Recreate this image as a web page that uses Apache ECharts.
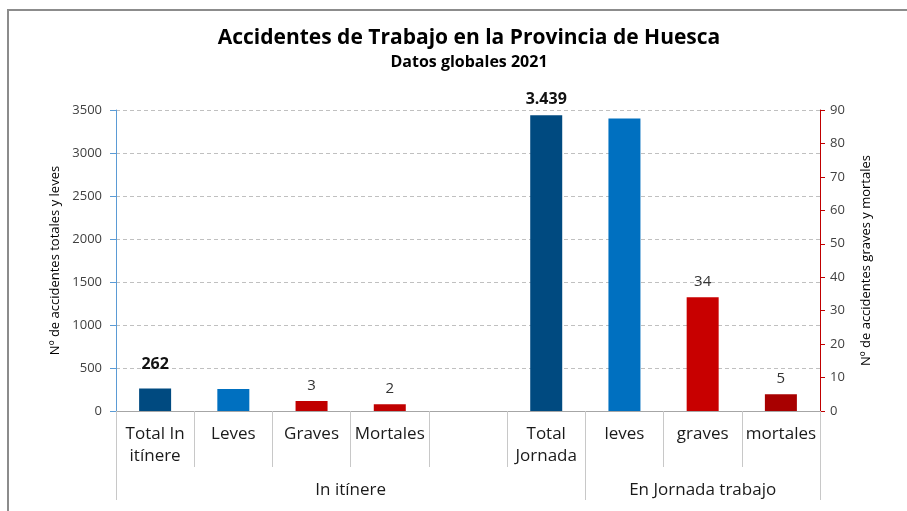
<!DOCTYPE html>
<html>
<head>
<meta charset="utf-8">
<script src="https://cdn.jsdelivr.net/npm/echarts@6/dist/echarts.min.js"></script>
<style>
html, body { margin: 0; padding: 0; background: #fff; }
#chart { width: 907px; height: 511px; }
</style>
</head>
<body>
<div id="chart"></div>
<script>
// categorías del eje X (la quinta queda vacía, como en el original)
const categories = ['Total In\nitínere', 'Leves', 'Graves', 'Mortales', '', 'Total\nJornada', 'leves', 'graves', 'mortales']
// grupos: nombre y posición (en huecos) de inicio/fin
const groupNames = ['In itínere', 'En Jornada trabajo']
const groupBounds = [0, 6, 9]
// totales y leves -> eje izquierdo
const leftValues = [262, 257, null, null, null, 3439, 3400, null, null]
// graves y mortales -> eje derecho
const rightValues = [null, null, 3, 2, null, null, null, 34, 5]
const barColors = ['#004a80', '#0070c0', '#c00000', '#c00000', '#fff', '#004a80', '#0070c0', '#c80000', '#a80000']
// 'bold' = etiqueta destacada, 'normal' = etiqueta normal, '' = sin etiqueta
const labelKind = ['bold', '', 'normal', 'normal', '', 'bold', '', 'normal', 'normal']
const leftTicks = { min: 0, max: 3500, interval: 500 }
const rightTicks = { min: 0, max: 90, interval: 10 }

const FONT = 'Open Sans'
const TICK_LEN = 56      // marcas de categoría
const GROUP_TICK = 33    // prolongación de los separadores de grupo
const fmt = v => v >= 1000 ? String(v).replace(/\B(?=(\d{3})+(?!\d))/g, '.') : String(v)

function buildData(values) {
    return values.map((v, i) => {
        if (v == null) return '-'
        const kind = labelKind[i]
        let label = { show: false }
        if (kind === 'bold') {
            label = { show: true, fontWeight: 'bold', fontSize: 16, color: '#111', distance: i === 0 ? 16 : 8 }
        } else if (kind === 'normal') {
            label = { show: true, fontSize: 15, color: '#333', distance: 8 }
        }
        return { value: v, itemStyle: { color: barColors[i] }, label }
    })
}

const groupCenters = groupNames.map((n, i) => (groupBounds[i] + groupBounds[i + 1]) / 2)

const frame = {
    id: 'frame',
    type: 'polyline',
    shape: { points: [[8, 511], [8, 10], [907, 10]] },
    style: { stroke: '#8c8c8c', lineWidth: 2, fill: null },
    silent: true
}

const chart = echarts.init(document.getElementById('chart'))
const option = {
    animation: false,
    textStyle: { fontFamily: FONT },
    title: {
        text: 'Accidentes de Trabajo en la Provincia de Huesca',
        subtext: 'Datos globales 2021',
        left: 464, top: 23, textAlign: 'center', itemGap: 5,
        textStyle: { fontFamily: FONT, fontSize: 21, fontWeight: 'bold', color: '#000' },
        subtextStyle: { fontFamily: FONT, fontSize: 16, fontWeight: 'bold', color: '#000' }
    },
    grid: { left: 116, right: 87, top: 110, bottom: 100 },
    xAxis: [
        {
            type: 'category',
            data: categories,
            axisLine: { lineStyle: { color: '#a6a6a6', width: 1 } },
            axisTick: { show: true, interval: 0, length: TICK_LEN, lineStyle: { color: '#c8c8c8' } },
            axisLabel: { interval: 0, fontSize: 17, lineHeight: 22, color: '#1a1a1a', margin: 12 }
        },
        {
            // nombres de grupo
            type: 'value',
            position: 'bottom',
            offset: TICK_LEN,
            min: 0, max: categories.length,
            axisLine: { show: false },
            axisTick: { show: false },
            splitLine: { show: false },
            axisLabel: {
                customValues: groupCenters,
                fontSize: 17, color: '#1a1a1a', margin: 15,
                formatter: v => groupNames[groupCenters.indexOf(v)] || ''
            }
        }
    ],
    yAxis: [
        {
            type: 'value',
            ...leftTicks,
            name: 'Nº de accidentes totales y leves',
            nameLocation: 'middle', nameGap: 44,
            nameTextStyle: { fontSize: 13, color: '#000' },
            axisLine: { show: true, lineStyle: { color: '#5b9bd5' } },
            axisTick: { show: true, length: 6, lineStyle: { color: '#5b9bd5' } },
            axisLabel: { fontSize: 13, color: '#404040', margin: 14, formatter: v => String(v) },
            splitLine: { lineStyle: { color: '#c0c0c0', type: [4, 3] } }
        },
        {
            type: 'value',
            ...rightTicks,
            position: 'right',
            name: 'Nº de accidentes graves y mortales',
            nameLocation: 'middle', nameGap: 40, nameRotate: 90,
            nameTextStyle: { fontSize: 13, color: '#000' },
            axisLine: { show: true, lineStyle: { color: '#c00000' } },
            axisTick: { show: true, length: 5, lineStyle: { color: '#c00000' } },
            axisLabel: { fontSize: 13, color: '#404040', margin: 10 },
            splitLine: { show: false }
        }
    ],
    series: [
        {
            name: 'Totales y leves',
            type: 'bar',
            yAxisIndex: 0,
            barWidth: 32,
            barGap: '-100%',
            data: buildData(leftValues),
            label: { position: 'top', formatter: p => fmt(p.value) }
        },
        {
            name: 'Graves y mortales',
            type: 'bar',
            yAxisIndex: 1,
            barWidth: 32,
            barGap: '-100%',
            data: buildData(rightValues),
            label: { position: 'top', formatter: p => fmt(p.value) }
        }
    ],
    graphic: [frame]
}
chart.setOption(option)

// separadores de grupo: prolongan hacia abajo las marcas de los límites de grupo,
// situados con la escala del propio eje de categorías
const c0 = chart.convertToPixel({ xAxisIndex: 0 }, 0)
const band = chart.convertToPixel({ xAxisIndex: 0 }, 1) - c0
const yBase = chart.convertToPixel({ yAxisIndex: 0 }, 0)
const separators = groupBounds.map((b, i) => {
    const x = Math.round(c0 + (b - 0.5) * band) + 0.5
    return {
        id: 'sep' + i,
        type: 'line',
        shape: { x1: x, y1: yBase + TICK_LEN, x2: x, y2: yBase + TICK_LEN + GROUP_TICK },
        style: { stroke: '#c8c8c8', lineWidth: 1 },
        silent: true
    }
})
chart.setOption({ graphic: [frame].concat(separators) })
</script>
</body>
</html>
